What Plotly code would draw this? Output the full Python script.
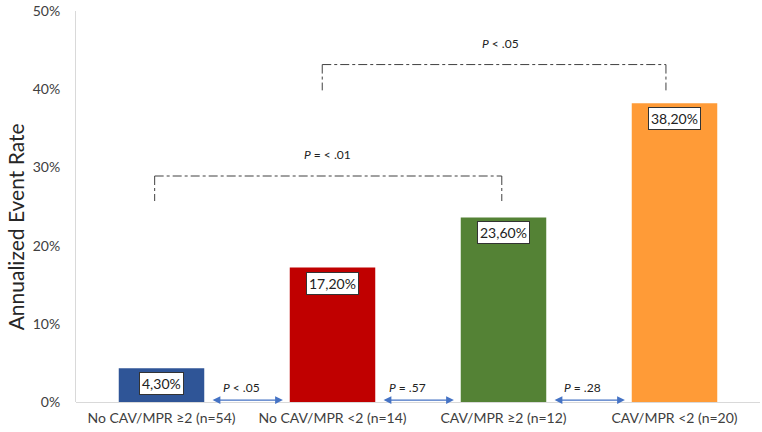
import plotly.graph_objects as go

categories = ["No CAV/MPR ≥2 (n=54)", "No CAV/MPR <2 (n=14)", "CAV/MPR ≥2 (n=12)", "CAV/MPR <2 (n=20)"]
rates = [0.043, 0.172, 0.236, 0.382]
colors = ["#2F5597", "#C00000", "#548235", "#FF9B37"]
pair_labels = ["<i>P</i> < .05", "<i>P</i> = .57", "<i>P</i> = .28"]
bracket_labels = ["<i>P</i> = < .01", "<i>P</i> < .05"]
y_ticks = [0, 0.1, 0.2, 0.3, 0.4, 0.5]
y_title = "Annualized Event Rate"

FONT = "Lato, Open Sans, sans-serif"
xs = list(range(len(categories)))

fig = go.Figure()
fig.add_trace(go.Bar(x=xs, y=rates, width=0.5, marker=dict(color=colors, line=dict(width=0)),
                     hoverinfo="skip", showlegend=False))

ann = []
shapes = []
for i, v in enumerate(rates):
    txt = f"{v*100:.2f}".replace(".", ",") + "%"
    ann.append(dict(x=i, y=v, xref="x", yref="y", text=txt, showarrow=False, yanchor="top",
                    yshift=-4, font=dict(family=FONT, size=14, color="#222222"),
                    bgcolor="white", bordercolor="#333333", borderwidth=1, borderpad=2))

pair_x = [0.47, 1.44, 2.46]
for i in range(3):
    ann.append(dict(x=i + 0.71, y=0.0025, ax=i + 0.29, ay=0.0025, xref="x", yref="y",
                    axref="x", ayref="y", text="", showarrow=True, arrowhead=2, startarrowhead=2,
                    arrowside="end+start", arrowsize=1.2, arrowwidth=1.3, arrowcolor="#4472C4",
                    startarrowsize=1.2))
    ann.append(dict(x=pair_x[i], y=0.019, xref="x", yref="y", text=pair_labels[i], showarrow=False,
                    font=dict(family=FONT, size=12, color="#222222")))

brackets = [(-0.04, 1.99, 0.289, 0.257, 0.97, 0.316), (0.94, 2.95, 0.4315, 0.3985, 1.98, 0.458)]
for j, (x0, x1, yt, yb, tx, ty) in enumerate(brackets):
    ld = dict(color="#404040", width=1, dash="dashdot")
    shapes.append(dict(type="line", xref="x", yref="y", x0=x0, x1=x1, y0=yt, y1=yt, line=ld))
    shapes.append(dict(type="line", xref="x", yref="y", x0=x0, x1=x0, y0=yt, y1=yb, line=ld))
    shapes.append(dict(type="line", xref="x", yref="y", x0=x1, x1=x1, y0=yt, y1=yb, line=ld))
    ann.append(dict(x=tx, y=ty, xref="x", yref="y", text=bracket_labels[j], showarrow=False,
                    font=dict(family=FONT, size=12, color="#222222")))

ann.append(dict(x=-0.089, y=0.447, xref="paper", yref="paper", text=y_title, textangle=-90,
                showarrow=False, xanchor="center", yanchor="middle",
                font=dict(family=FONT, size=21, color="#262626")))

fig.update_layout(
    width=762, height=432,
    margin=dict(l=76, r=2, t=8, b=30),
    paper_bgcolor="white", plot_bgcolor="white",
    font=dict(family=FONT, color="#404040"),
    annotations=ann, shapes=shapes,
    xaxis=dict(range=[-0.5, 3.5], tickvals=xs, ticktext=categories, showgrid=False,
               zeroline=False, showline=False, ticks="", ticklabelstandoff=6,
               tickfont=dict(size=14, color="#404040")),
    yaxis=dict(range=[0, 0.5], tickvals=y_ticks, tickformat=".0%", showgrid=False,
               zeroline=True, zerolinecolor="#D9D9D9", zerolinewidth=1,
               showline=True, linecolor="#D9D9D9", linewidth=1, ticks="",
               ticklabeloverflow="allow", ticklabelstandoff=12,
               tickfont=dict(size=14, color="#404040")),
)

fig.write_html("out.html")
